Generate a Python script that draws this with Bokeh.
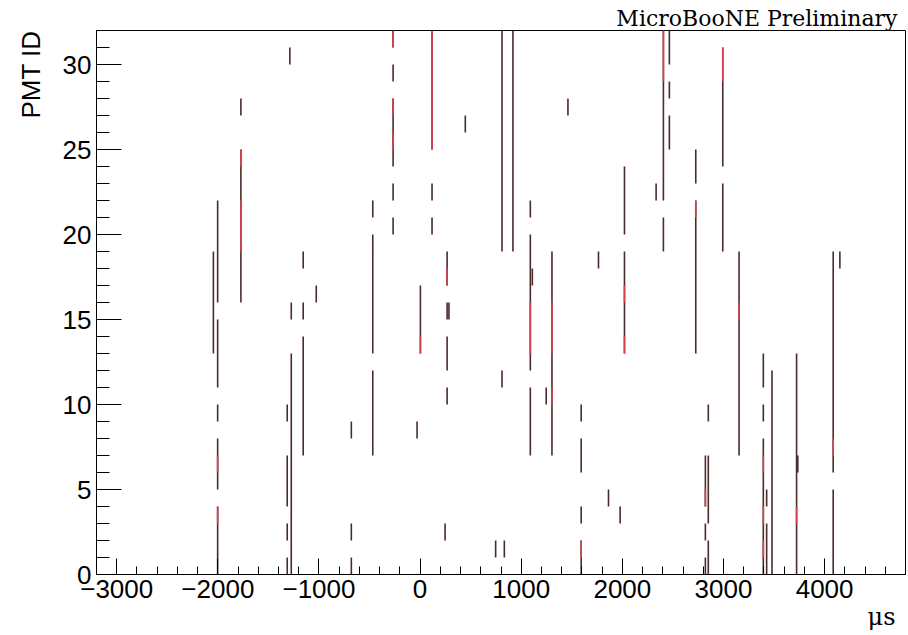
from bokeh.plotting import figure
from bokeh.models import SingleIntervalTicker, ColumnDataSource, Title
from bokeh.embed import file_html
from bokeh.resources import INLINE

# ---- data: PMT hits (time in microseconds, PMT bin range) ----
hit_t = [-2044, -2002, -2002, -2002, -2002, -2002, -1772, -1772,
         -1314, -1314, -1314, -1314, -1288, -1274, -1274,
         -1156, -1156, -1156, -1027, -680, -680, -680,
         -468, -468, -468, -267, -267, -267, -267, -267,
         -30, 3, 118, 118, 118, 247, 267, 267, 267, 267, 285,
         447, 747, 810, 810, 833, 918,
         1090, 1090, 1090, 1110, 1247, 1304, 1462,
         1593, 1593, 1593, 1593, 1764, 1863, 1978,
         2021, 2021, 2334, 2406, 2406, 2465, 2465, 2465,
         2726, 2726, 2821, 2821, 2821, 2850, 2850, 2850,
         2993, 2993, 3154, 3394, 3394, 3394, 3427, 3427,
         3480, 3723, 3735, 4085, 4085, 4151]
hit_y0 = [13, 16, 11, 9, 5, 0, 27, 16,
          9, 4, 2, 0, 30, 15, 0,
          18, 15, 7, 16, 8, 2, 0,
          21, 13, 7, 31, 29, 24, 22, 20,
          8, 13, 25, 22, 20, 2, 17, 15, 12, 10, 15,
          26, 1, 19, 11, 1, 19,
          21, 12, 7, 17, 10, 7, 27,
          9, 6, 3, 0, 18, 4, 3,
          20, 13, 22, 22, 19, 30, 28, 25,
          23, 13, 4, 2, 0, 9, 3, 0,
          24, 19, 7, 11, 9, 0, 4, 0,
          0, 0, 6, 6, 0, 18]
hit_y1 = [19, 22, 15, 10, 8, 4, 28, 25,
          10, 7, 3, 1, 31, 16, 13,
          19, 16, 14, 17, 9, 3, 1,
          22, 20, 12, 32, 30, 28, 23, 21,
          9, 17, 32, 23, 21, 3, 19, 16, 14, 11, 16,
          27, 2, 32, 12, 2, 32,
          22, 20, 11, 18, 11, 19, 28,
          10, 8, 4, 2, 19, 5, 4,
          24, 19, 23, 32, 21, 32, 29, 27,
          25, 22, 7, 3, 1, 10, 7, 2,
          31, 23, 19, 13, 10, 8, 5, 3,
          12, 13, 7, 19, 5, 19]

# bins with larger charge (drawn red)
red_t = [-1772, -1772, -2002, -2002, -267, -267, -267, 118, 3, 267,
         1090, 1304, 1304, 2021, 2021, 2406, 2726, 2993, 3154,
         3394, 3394, 3394, 3723, 4085, 2821, 1593]
red_y0 = [24, 19, 6, 3, 31, 27, 25, 25, 13, 17,
          13, 13, 10, 16, 13, 29, 21, 29, 15,
          6, 3, 1, 3, 7, 4, 1]
red_y1 = [25, 22, 7, 4, 32, 28, 26, 32, 14, 18,
          16, 16, 11, 17, 14, 32, 22, 31, 16,
          7, 4, 2, 4, 8, 5, 2]

x_minus_labels = {-3000: "\u22123000", -2000: "\u22122000", -1000: "\u22121000"}

FONT = "Liberation Sans"

p = figure(width=906, height=633, x_range=(-3200, 4800), y_range=(0, 32),
           output_backend="svg", toolbar_location=None,
           min_border_left=95, min_border_right=1, min_border_top=30,
           min_border_bottom=59)
p.xgrid.visible = False
p.ygrid.visible = False
p.outline_line_color = "black"
p.outline_line_width = 1
p.background_fill_color = "white"
p.border_fill_color = "white"

src = ColumnDataSource(dict(t=hit_t, y0=hit_y0, y1=hit_y1))
p.segment(x0="t", y0="y0", x1="t", y1="y1", source=src,
          line_color="#4a2c2c", line_width=1.6)
rsrc = ColumnDataSource(dict(t=red_t, y0=red_y0, y1=red_y1))
p.segment(x0="t", y0="y0", x1="t", y1="y1", source=rsrc,
          line_color="#d8404c", line_width=1.6)

# axes styling (ROOT-like, inward ticks)
xa = p.xaxis[0]
xa.ticker = SingleIntervalTicker(interval=1000, num_minor_ticks=5)
xa.major_tick_in = 16
xa.major_tick_out = 0
xa.minor_tick_in = 8
xa.minor_tick_out = 0
xa.major_label_overrides = x_minus_labels
xa.major_label_text_font = FONT
xa.major_label_text_font_size = "26px"
xa.major_label_text_color = "black"
xa.major_label_standoff = 5
xa.axis_line_color = "black"
xa.major_tick_line_color = "black"
xa.minor_tick_line_color = "black"

ya = p.yaxis[0]
ya.ticker = SingleIntervalTicker(interval=5, num_minor_ticks=5)
ya.major_tick_in = 25
ya.major_tick_out = 0
ya.minor_tick_in = 13
ya.minor_tick_out = 0
ya.major_label_text_font = FONT
ya.major_label_text_font_size = "26px"
ya.major_label_text_color = "black"
ya.major_label_standoff = 5
ya.axis_line_color = "black"
ya.major_tick_line_color = "black"
ya.minor_tick_line_color = "black"

# texts (as titles so they sit outside the frame)
p.add_layout(Title(text="MicroBooNE Preliminary", align="right", offset=8,
                   standoff=0, text_font="DejaVu Serif", text_font_size="22px",
                   text_font_style="normal", text_color="black"), "above")
p.add_layout(Title(text="PMT ID", align="right", offset=0, standoff=27,
                   text_font=FONT, text_font_size="26px",
                   text_font_style="normal", text_color="black"), "left")
p.add_layout(Title(text="\u03bcs", align="right", offset=10, standoff=0,
                   text_font="DejaVu Serif", text_font_size="24px",
                   text_font_style="normal", text_color="black"), "below")

open("out.html", "w").write(file_html(p, INLINE))
